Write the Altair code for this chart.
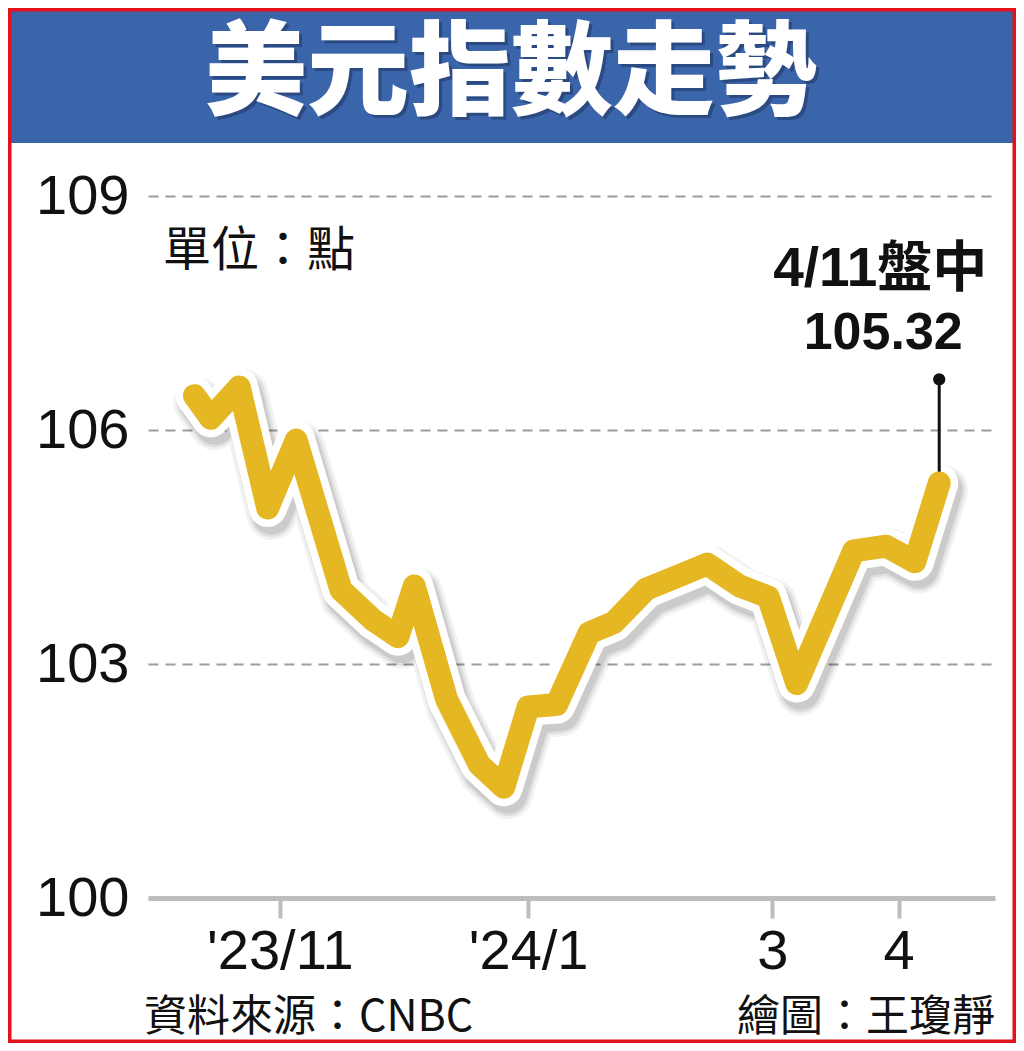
import altair as alt
import pandas as pd

# ---------------- data ----------------
dates = ["2023-10-11", "2023-10-15", "2023-10-22", "2023-10-29", "2023-11-05",
         "2023-11-16", "2023-11-24", "2023-11-30", "2023-12-04", "2023-12-12",
         "2023-12-20", "2023-12-26", "2024-01-01", "2024-01-08", "2024-01-16",
         "2024-01-22", "2024-01-30", "2024-02-14", "2024-02-22", "2024-02-29",
         "2024-03-07", "2024-03-21", "2024-03-29", "2024-04-05", "2024-04-11"]
values = [106.44, 106.15, 106.55, 105.00, 105.87,
          103.95, 103.56, 103.35, 104.00, 102.54,
          101.71, 101.42, 102.45, 102.48, 103.40,
          103.53, 103.96, 104.28, 104.00, 103.86,
          102.75, 104.45, 104.51, 104.31, 105.32]

y_ticks = [100, 103, 106, 109]
tick_dates = ["2023-11-01", "2024-01-01", "2024-03-01", "2024-04-01"]
tick_labels = ["'23/11", "'24/1", "3", "4"]

anno_date = ["2024-04-11"]
anno_value = [105.32]
anno_top = [106.65]
anno_line1 = "4/11盤中"
anno_line2 = "105.32"

title_text = "美元指數走勢"
unit_text = "單位：點"
source_text = "資料來源：CNBC"
credit_text = "繪圖：王瓊靜"

# ---------------- styles ----------------
GOLD = "#E4B723"
BLUE = "#3b65ab"
RED = "#e3121b"
GRAY = "#bdbdbd"
NUM_FONT = "Liberation Sans Narrow, Liberation Sans, sans-serif"
CJK_FONT = "Noto Sans CJK TC"
MIX_FONT = "Liberation Sans Narrow, Noto Sans CJK TC"

W, H = 847, 702

df = pd.DataFrame({"date": dates, "value": values})
anno = pd.DataFrame({"date": anno_date, "value": anno_value, "top": anno_top})
one = alt.Data(values=[{"k": 1}])


def dt(s, hours=0):
    y, m, d = (int(p) for p in s.split("-"))
    return alt.DateTime(year=y, month=m, date=d, hours=hours, utc=True)


expr = "''"
for d, lab in reversed(list(zip(tick_dates, tick_labels))):
    y, m, _ = (int(p) for p in d.split("-"))
    lab_js = '"' + lab + '"'
    expr = f"(utcyear(datum.value)=={y} && utcmonth(datum.value)=={m-1}) ? {lab_js} : {expr}"

xscale = alt.Scale(type="utc", domain=[dt("2023-09-29", 14), dt("2024-04-24", 17)])
xaxis = alt.Axis(values=[dt(d) for d in tick_dates], labelExpr=expr, title=None,
                 grid=False, domain=True, domainColor=GRAY, domainWidth=5,
                 ticks=True, tickColor=GRAY, tickWidth=4, tickSize=20,
                 labelFont=NUM_FONT, labelFontSize=56, labelColor="#111",
                 labelPadding=6, labelFlush=False, labelOverlap=False,
                 labelBaseline="top")
yscale = alt.Scale(domain=[100, 109], nice=False, zero=False)
yaxis = alt.Axis(values=y_ticks, title=None, grid=True, gridDash=[10, 7],
                 gridColor="#9c9c9c", gridWidth=2, domain=False, ticks=False,
                 tickSize=0, labelFont=NUM_FONT, labelFontSize=56,
                 labelColor="#111", labelPadding=19)

X = alt.X("date:T", scale=xscale, axis=xaxis)
Y = alt.Y("value:Q", scale=yscale, axis=yaxis)
YT = alt.Y("top:Q", scale=yscale, axis=yaxis)

base = alt.Chart(df)

shadows = [
    base.mark_line(stroke="#000", strokeWidth=w, opacity=o, strokeJoin="round",
                   strokeCap="round", xOffset=4, yOffset=7).encode(x=X, y=Y)
    for w, o in [(50, 0.05), (44, 0.07), (39, 0.09)]
]
white = base.mark_line(stroke="white", strokeWidth=38, strokeJoin="round",
                       strokeCap="round").encode(x=X, y=Y)
gold = base.mark_line(stroke=GOLD, strokeWidth=23, strokeJoin="round",
                      strokeCap="round").encode(x=X, y=Y)

achart = alt.Chart(anno)
rule = achart.mark_rule(color="#111", strokeWidth=3).encode(
    x=X, y=Y, y2="top:Q")
dot = achart.mark_circle(size=150, color="#111", opacity=1).encode(x=X, y=YT)
t2 = achart.mark_text(font="Liberation Sans, sans-serif", fontSize=52,
                      fontWeight="bold", color="#111", align="center",
                      baseline="alphabetic", dx=-56, dy=-30).encode(
    x=X, y=YT, text=alt.value(anno_line2))
t1 = achart.mark_text(font="Liberation Sans, Noto Sans CJK TC", fontSize=55,
                      fontWeight="bold", color="#111", align="center",
                      baseline="alphabetic", dx=-59, dy=-93).encode(
    x=X, y=YT, text=alt.value(anno_line1))

# decoration: banner, frame, texts
banner = alt.Chart(one).mark_rect(color=BLUE).encode(
    x=alt.value(-137), x2=alt.value(865), y=alt.value(-185), y2=alt.value(-53))
frame = alt.Chart(one).mark_rect(fill=None, stroke=RED, strokeWidth=7).encode(
    x=alt.value(-140), x2=alt.value(868), y=alt.value(-188), y2=alt.value(847))
title_sh = alt.Chart(one).mark_text(font=CJK_FONT, fontSize=102, fontWeight=900,
                                    color="#1f3560", opacity=0.55,
                                    align="center", baseline="middle").encode(
    x=alt.value(366), y=alt.value(-117), text=alt.value(title_text))
title = alt.Chart(one).mark_text(font=CJK_FONT, fontSize=102, fontWeight=900,
                                 color="white", align="center",
                                 baseline="middle").encode(
    x=alt.value(363), y=alt.value(-120), text=alt.value(title_text))
unit = alt.Chart(one).mark_text(font=CJK_FONT, fontSize=48, color="#111",
                                align="left", baseline="middle").encode(
    x=alt.value(15), y=alt.value(56), text=alt.value(unit_text))
source = alt.Chart(one).mark_text(font=MIX_FONT, fontSize=43, color="#111",
                                  align="left", baseline="middle").encode(
    x=alt.value(-4), y=alt.value(822), text=alt.value(source_text))
credit = alt.Chart(one).mark_text(font=MIX_FONT, fontSize=43, color="#111",
                                  align="right", baseline="middle").encode(
    x=alt.value(847), y=alt.value(822), text=alt.value(credit_text))

chart = alt.layer(
    banner, frame, title_sh, title, unit, source, credit,
    *shadows, white, rule, gold, dot, t2, t1
).properties(
    width=W, height=H,
    autosize=alt.AutoSizeParams(type="none"),
    padding={"left": 140, "top": 188, "right": 21, "bottom": 145},
    background="white",
).configure_view(stroke=None)

chart.save("out.html", embed_options={"renderer": "svg", "actions": False})
